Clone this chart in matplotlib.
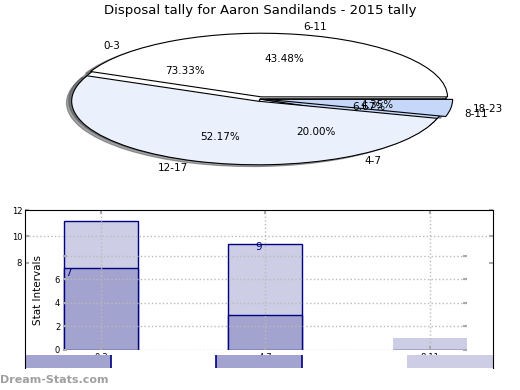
import matplotlib
matplotlib.use('Agg')
import matplotlib.pyplot as plt

# pie data (two tallies drawn on top of each other)
pie_a_labels = ['0-3', '4-7', '8-11']
pie_a_vals = [11, 3, 1]
pie_b_labels = ['6-11', '12-17', '18-23']
pie_b_vals = [10, 12, 1]

# bar data
bar_cats = ['0-3', '4-7', '8-11']
light_vals = [11, 9, 1]
dark_vals = [7, 3, 0]
bar_labels = [7, 9]
base_vals = [1, 1, 1]

outer_ticks = [8, 10, 12]
inner_ticks = [0, 2, 4, 6, 8]
inner_ticklabels = ['0', '2', '4', '6', '']

pie_cols = ['#ffffff', '#eaf0fc', '#c5d8fa']
light = '#cdcde6'
dark = '#a3a3d0'
navy = '#000080'

fig = plt.figure(figsize=(5.2, 3.9), dpi=100)
fig.patch.set_facecolor('white')

fig.text(0.5, 0.974, 'Disposal tally for Aaron Sandilands - 2015 tally',
         ha='center', va='center', fontsize=9.5)

# --- pie ---
ax_p = fig.add_axes([0.0525, 0.542, 0.895, 0.408])
wp = dict(edgecolor='black', linewidth=0.8)
ax_p.pie(pie_a_vals, labels=pie_a_labels, colors=pie_cols, autopct='%1.2f%%',
         pctdistance=0.6, labeldistance=1.12, shadow=True, wedgeprops=wp,
         textprops=dict(fontsize=7.5))
ax_p.pie(pie_b_vals, labels=pie_b_labels, colors=pie_cols, autopct='%1.2f%%',
         pctdistance=0.6, labeldistance=1.12, shadow=True, wedgeprops=wp,
         explode=[0.035] * 3, textprops=dict(fontsize=7.5))
ax_p.set_aspect('auto')
ax_p.set_xlim(-1.25, 1.25)
ax_p.set_ylim(-1.25, 1.25)

# --- inner bar axes ---
ax_i = fig.add_axes([0.1212, 0.1026, 0.777, 0.359])
x = range(len(bar_cats))
ax_i.bar(x, light_vals, width=0.45, color=light,
         edgecolor=[navy, navy, 'none'], linewidth=1, zorder=2)
ax_i.bar(x, dark_vals, width=0.45, color=dark, edgecolor=navy, linewidth=1, zorder=2)
ax_i.set_xlim(-0.23, 2.225)
ax_i.set_ylim(0, 11.9)
ax_i.set_xticks(list(x))
ax_i.set_xticklabels(bar_cats, fontsize=6)
ax_i.set_yticks(inner_ticks)
ax_i.set_yticklabels(inner_ticklabels, fontsize=6)
ax_i.tick_params(direction='in', length=3, width=1.5, color='#aaaaaa',
                 right=True, top=True, pad=2)
ax_i.tick_params(axis='x', pad=2.5)
ax_i.grid(True, linestyle=':', color='#bbbbbb', linewidth=1, zorder=3)
ax_i.set_axisbelow(False)
for s in ax_i.spines.values():
    s.set_visible(False)
ax_i.set_ylabel('Stat Intervals', fontsize=7.5)
ax_i.yaxis.set_label_coords(-0.05, 0.43)

# --- outer axes on top ---
ax_o = fig.add_axes([0.048, 0.0564, 0.9, 0.405])
ax_o.set_facecolor('none')
ax_o.set_zorder(3)
w = 0.45
ax_o.bar(x, base_vals, width=w, color=[dark, dark, light], linewidth=0)
for i, v in enumerate(base_vals[:2]):
    ax_o.vlines([i - w / 2, i + w / 2], 0, v, color=navy, linewidth=1.2)
for i, v in enumerate(bar_labels):
    ax_o.text(i, v + 0.2, str(v), ha='center', va='center', color=navy, fontsize=7.5)
ax_o.axhline(outer_ticks[1], linestyle=':', color='#bbbbbb', linewidth=1)
ax_o.set_xlim(-0.225, 2.225)
ax_o.set_ylim(0, 12)
ax_o.set_xticks([])
ax_o.set_yticks(outer_ticks)
ax_o.set_yticklabels([str(t) for t in outer_ticks], fontsize=6)
ax_o.tick_params(direction='in', length=3, width=1.5, color='#aaaaaa', right=True, pad=2)
ax_o.spines['bottom'].set_visible(False)

fig.text(0.0, 0.025, 'Dream-Stats.com', color='#a0a0a0', fontsize=8,
         fontweight='bold', va='center')

fig.savefig('out.png', dpi=100)
